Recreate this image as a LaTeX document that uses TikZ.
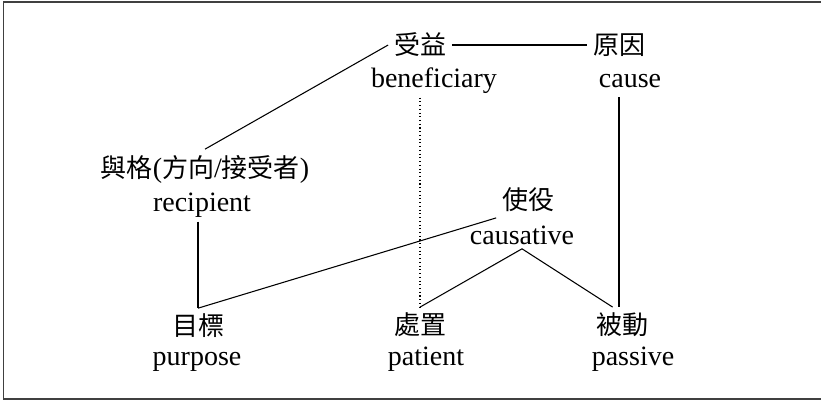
\documentclass[tikz,border=0pt]{standalone}
\usepackage{fontspec}
\setmainfont{Liberation Serif}
\newfontfamily\cjkfont{Noto Sans CJK TC}
\newcommand{\lat}[1]{{\rmfamily\fontsize{21}{25}\selectfont #1}}
\begin{document}
\begin{tikzpicture}[x=0.75pt, y=-0.75pt, line width=0.8pt,
  zh node/.style={inner sep=4pt, font=\cjkfont\fontsize{19.5}{23}\selectfont},
  en node/.style={inner sep=3pt, anchor=base, font=\fontsize{21}{25}\selectfont}]
\useasboundingbox (0,0) rectangle (821,401);
\draw[black!75, line width=1.1pt] (3.5,2) rectangle (830,399);
\begin{scope}
\node[zh node] (ben) at (420,45) {受益};
\node[en node] (benE) at (434,87) {beneficiary};
\node[zh node] (cau) at (619,45) {原因};
\node[en node] (cauE) at (630,87) {cause};
\node[zh node] (rec) at (205,169) {與格\lat{(}方向\lat{/}接受者\lat{)}};
\node[en node] (recE) at (202,211) {recipient};
\node[zh node] (caus) at (528,200) {使役};
\node[en node] (causE) at (522,244) {causative};
\node[zh node] (pur) at (198,326) {目標};
\node[en node] (purE) at (197,365) {purpose};
\node[zh node] (pat) at (420,325) {處置};
\node[en node] (patE) at (426,365) {patient};
\node[zh node] (pas) at (622,325) {被動};
\node[en node] (pasE) at (633,365) {passive};
\end{scope}
\begin{scope}
\draw (rec.north) -- (ben.west);
\draw (ben.east) -- (cau.west);
\draw ([yshift=-4pt]cauE.south -| cau) -- (pas.north -| cau);
\draw[dotted] (pat.north |- benE.south) -- (pat.north);
\draw (recE.south -| pur) -- (pur.north);
\draw (pur.north) -- (caus.south west);
\draw (causE.south) -- (pat.north);
\draw (causE.south) -- ([xshift=-7pt]pas.north);
\end{scope}
\end{tikzpicture}
\end{document}
